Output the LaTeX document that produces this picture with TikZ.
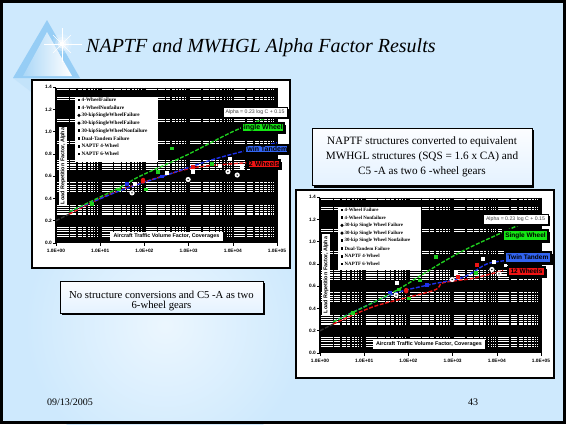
\documentclass[tikz,border=0pt]{standalone}
\usepackage{fontspec}
\setmainfont{Liberation Serif}
\setsansfont{Liberation Sans}

\definecolor{slidebg}{RGB}{206,233,253}
\definecolor{pyrblue}{RGB}{150,205,245}
\definecolor{pyrlight}{RGB}{215,238,253}
\definecolor{sergreen}{RGB}{30,205,30}
\definecolor{serblue}{RGB}{30,50,235}
\definecolor{serred}{RGB}{235,20,20}
\definecolor{boxgreen}{RGB}{20,230,20}
\definecolor{boxblue}{RGB}{50,100,240}
\definecolor{boxred}{RGB}{240,20,20}
\definecolor{noteTop}{RGB}{252,253,255}
\definecolor{noteBot}{RGB}{228,242,255}

\tikzset{
  chartframe/.style={fill=white, draw=black, line width=1.6pt},
  gridrow/.style={white, line width=1.1pt},
  minorcut/.style={black, line width=1.3pt},
  majorcut/.style={black, line width=2.6pt},
  ticklab/.style={font=\sffamily\bfseries\fontsize{4.8}{5}\selectfont, inner sep=0pt},
  legtext/.style={font=\rmfamily\bfseries\fontsize{5.2}{6}\selectfont, anchor=west, inner sep=0pt},
  axtitle/.style={font=\sffamily\bfseries\fontsize{5.4}{6}\selectfont, inner sep=0pt},
  eqtext/.style={font=\sffamily\fontsize{5.2}{6}\selectfont, text=black!75, inner sep=0pt},
  series/.style={line width=1.4pt, dash pattern=on 4pt off 1.6pt},
  tagfill/.style={draw=black, line width=1.1pt},
  tagtext/.style={font=\sffamily\bfseries\fontsize{#1}{7}\selectfont, inner sep=0pt},
  notebox/.style={draw=black, line width=1pt, top color=noteTop, bottom color=noteBot},
  notetext/.style={font=\fontsize{#1}{13}\selectfont, inner sep=0pt},
  gmk/.pic={\fill[sergreen] (-1.8pt,-1.8pt) rectangle (1.8pt,1.8pt);},
  bmk/.pic={\fill[serblue] (-2pt,-1.6pt) rectangle (2pt,1.6pt);},
  rmk/.pic={\fill[serred] (-1.8pt,-1.8pt) rectangle (1.8pt,1.8pt);},
  rbig/.pic={\fill[serred] (0,0) ellipse (2.3pt and 2.9pt);},
  wmk/.pic={\fill[white] (-2pt,-2pt) rectangle (2pt,2pt);},
  wci/.pic={\fill[white] (0,0) circle (2.6pt); \fill[black] (0,0) circle (0.8pt);},
  legsq/.pic={\fill[black] (-1.4pt,-1.4pt) rectangle (1.4pt,1.4pt);},
  legci/.pic={\fill[black] (0,0) circle (1.7pt);},
}

% frame, black grid field, ticks and tick labels of one chart
\newcommand{\chartbase}{%
  \draw[chartframe] (0,0) rectangle (258,188);
  \fill[black] (24,7.6) rectangle (245,163);
  \foreach \r in {0.06,0.08,0.10,0.12,0.14,0.26,0.28,0.30,0.32,0.34,0.46,0.48,0.50,0.52,0.54,0.66,0.68,0.70,0.72,0.74,0.89,0.91,1.09,1.11,1.29,1.31,1.375}
    \draw[gridrow] (24,{163-111.4*\r}) -- (245,{163-111.4*\r});
  \foreach \d in {0,...,4}
    \foreach \k in {2,...,9}
      \draw[minorcut] ({24+44.2*(\d+log10(\k))},7.6) -- ++(0,155.4);
  \foreach \d in {0,...,5}
    \draw[majorcut] ({24+44.2*\d},7.6) -- ++(0,155.4);
  \foreach \a/\t [count=\n] in {0/0.0,0.2/0.2,0.4/0.4,0.6/0.6,0.8/0.8,1/1.0,1.2/1.2,1.4/1.4}{
    \draw[line width=0.5pt] (21,{163-111.4*\a}) -- (24,{163-111.4*\a});
    \node[ticklab, anchor=east] (yt\n) at (20,{163-111.4*\a}) {\t};
  }
  \foreach \d/\t in {0/1.0E+00,1/1.0E+01,2/1.0E+02,3/1.0E+03,4/1.0E+04,5/1.0E+05}{
    \draw[line width=0.5pt] ({24+44.2*\d},163) -- ++(0,3);
    \node[ticklab] (xt\d) at ({24+44.2*\d},170.5) {\t};
  }
}

\begin{document}
\begin{tikzpicture}[x=1pt,y=-1pt]
\useasboundingbox (0,0) rectangle (566,424);
\fill[slidebg] (0,0) rectangle (566,424);
% soft light patch in the lower left of the slide
\shade[inner color=white!60!slidebg, outer color=slidebg] (165,325) circle (140);

% pyramid ornament with its reflection and sparkle
\fill[pyrblue!70, opacity=0.45] (13,78) -- (80,78) -- (47,104) -- cycle;
\fill[pyrblue] (47,20) -- (13,78) -- (80,78) -- cycle;
\shade[left color=pyrblue!80, right color=white] (47,32) -- (23,76) -- (72,76) -- cycle;
\foreach \r/\o in {10/0.15,7/0.3,4.5/0.55,2.4/1}
  \fill[white, opacity=\o] (62,44) circle (\r);
\draw[white, line width=0.8pt] (44,44) -- (82,44);
\draw[white, line width=0.8pt] (62,28) -- (62,62);
\draw[white, line width=0.5pt] (53,35) -- (71,53) (71,35) -- (53,53);

% title
\node[anchor=base west, inner sep=0pt, font=\itshape\fontsize{20}{24}\selectfont] (title) at (86,52) {NAPTF and MWHGL Alpha Factor Results};

% ---------- left chart ----------
\begin{scope}[shift={(32,80)}]
  \chartbase
  \begin{scope}[shift={(24,163)}, x=44.2pt, y=111.4pt]
    \draw[series, black!80] (0,0.2) -- (0.35,0.27);
    \draw[series, serred] plot[smooth] coordinates {(0.3,0.26) (1.29,0.45) (2.74,0.64) (3.37,0.69) (4.3,0.72)};
    \draw[series, serblue] plot[smooth] coordinates {(0.3,0.28) (1.45,0.47) (2.5,0.61) (3.64,0.76) (5,0.9)};
    \draw[series, sergreen] plot[smooth] coordinates {(0.3,0.28) (1.45,0.5) (1.9,0.6) (2.96,0.79) (4,1.0) (4.8,1.13)};
    \foreach \p in {(2.62,0.85),(2.31,0.64),(3.53,0.71),(2.04,0.48),(0.81,0.35),(1.43,0.48)} \pic at \p {gmk};
    \foreach \p in {(1.6,0.53),(2.4,0.6)} \pic at \p {bmk};
    \pic at (1.97,0.56) {rbig};
    \pic at (3.1,0.68) {rmk};
    \foreach \p in {(1.79,0.53),(2.5,0.63),(3.1,0.64),(3.71,0.69),(3.94,0.75),(4.2,0.67)} \pic at \p {wmk};
    \foreach \p in {(1.72,0.45),(2.99,0.57),(3.89,0.64),(4.1,0.61)} \pic at \p {wci};
  \end{scope}
  % legend
  \fill[white] (43,17) rectangle (126,82);
  \foreach \t/\m [count=\i] in {4-WheelFailure/legsq,4-WheelNonfailure/legsq,30-kipSingleWheelFailure/legci,30-kipSingleWheelFailure/legci,30-kipSingleWheelNonfailure/legsq,Dual-Tandem Failure/legsq,NAPTF 4-Wheel/legsq,NAPTF 6-Wheel/legsq}{
    \pic at (47,{12.3+7.7*\i}) {\m};
    \node[legtext] (lgA\i) at (49.5,{12.3+7.7*\i}) {\t};
  }
  % axis titles
  \fill[white] (27,47) rectangle (35,125);
  \node[axtitle, rotate=90] (ytA) at (31,86) {Load Repetition Factor, Alpha};
  \fill[black] (79.5,153.5) rectangle (192.5,162.5);
  \fill[white] (78,152) rectangle (191,161);
  \node[axtitle] (xtA) at (134.5,156.5) {Aircraft Traffic Volume Factor, Coverages};
  % equation and series tags
  \fill[black] (192.5,28.5) rectangle (256.5,38.5);
  \draw[fill=white, line width=0.6pt] (191,27) rectangle (255,37);
  \node[eqtext] (eqA) at (223,32) {Alpha = 0.23 log C + 0.15};
  \fill[black] (211.5,44.5) rectangle (253.5,53.5);
  \draw[tagfill, fill=boxgreen] (210,43) rectangle (252,52);
  \begin{scope}\clip (210.6,43.6) rectangle (251.4,51.4);
    \node[tagtext=7, anchor=east] (swA) at (251,47.7) {Single Wheel};\end{scope}
  \fill[black] (214.5,66.5) rectangle (257.5,74.5);
  \draw[tagfill, fill=boxblue] (213,65) rectangle (256,73);
  \begin{scope}\clip (213.6,65.6) rectangle (255.4,72.4);
    \node[tagtext=7, anchor=east] (ttA) at (255.5,69.2) {Twin Tandem};\end{scope}
  \fill[black] (217.5,81.5) rectangle (249.5,89.5);
  \draw[tagfill, fill=boxred] (216,80) rectangle (248,88);
  \begin{scope}\clip (216.6,80.6) rectangle (247.4,87.4);
    \node[tagtext=7, anchor=east] (twA) at (247.5,84.2) {12 Wheels};\end{scope}
\end{scope}

% ---------- right chart ----------
\begin{scope}[shift={(296,190)}]
  \chartbase
  \begin{scope}[shift={(24,163)}, x=44.2pt, y=111.4pt]
    \draw[series, black!80] (0,0.2) -- (0.35,0.27);
    \draw[series, serred] plot[smooth] coordinates {(0.3,0.26) (1.24,0.42) (2.56,0.56) (2.78,0.63) (3.46,0.67) (4.14,0.74)};
    \draw[series, serblue] plot[smooth] coordinates {(0.3,0.28) (1.58,0.52) (2.44,0.61) (3.24,0.68) (3.78,0.8) (4.23,0.83)};
    \draw[series, sergreen] plot[smooth] coordinates {(0.3,0.28) (1.29,0.47) (1.81,0.58) (2.71,0.8) (3.4,0.95) (4.9,1.22)};
    \foreach \p in {(2.62,0.86),(2.26,0.65),(3.53,0.72),(2.01,0.49),(0.75,0.36),(1.79,0.57)} \pic at \p {gmk};
    \foreach \p in {(1.58,0.54),(2.42,0.61)} \pic at \p {bmk};
    \pic at (1.95,0.56) {rbig};
    \foreach \p in {(3.12,0.68),(3.55,0.79)} \pic at \p {rmk};
    \foreach \p in {(1.74,0.63),(3.08,0.73),(3.69,0.84),(3.94,0.82),(4.2,0.79)} \pic at \p {wmk};
    \foreach \p in {(1.72,0.52),(2.99,0.66),(3.89,0.75),(4.05,0.71)} \pic at \p {wci};
  \end{scope}
  % legend
  \fill[white] (42,17) rectangle (125,80);
  \foreach \t/\m [count=\i] in {4-Wheel Failure/legsq,4-Wheel Nonfailure/legsq,30-kip Single Wheel Failure/legci,30-kip Single Wheel Failure/legci,30-kip Single Wheel Nonfailure/legsq,Dual-Tandem Failure/legsq,NAPTF 4-Wheel/legsq,NAPTF 6-Wheel/legsq}{
    \pic at (46,{12.3+7.7*\i}) {\m};
    \node[legtext, font=\rmfamily\bfseries\fontsize{4.9}{6}\selectfont] (lgB\i) at (48.5,{12.3+7.7*\i}) {\t};
  }
  % axis titles
  \fill[white] (26,44) rectangle (34,126);
  \node[axtitle, rotate=90] (ytB) at (30,85) {Load Repetition Factor, Alpha};
  \fill[black] (78.5,150.5) rectangle (190.5,160.5);
  \fill[white] (77,149) rectangle (189,159);
  \node[axtitle] (xtB) at (133,154) {Aircraft Traffic Volume Factor, Coverages};
  % equation and series tags
  \fill[black] (188.5,25.5) rectangle (253.5,35.5);
  \draw[fill=white, line width=0.6pt] (187,24) rectangle (252,34);
  \node[eqtext] (eqB) at (219.5,29) {Alpha = 0.23 log C + 0.15};
  \fill[black] (208.5,41.5) rectangle (253.5,52.5);
  \draw[tagfill, fill=boxgreen] (207,40) rectangle (252,51);
  \node[tagtext=6.5] (swB) at (229.5,45.5) {Single Wheel};
  \fill[black] (210.5,63.5) rectangle (256.5,74.5);
  \draw[tagfill, fill=boxblue] (209,62) rectangle (255,73);
  \node[tagtext=6.5] (ttB) at (232,67.5) {Twin Tandem};
  \fill[black] (213.5,78.5) rectangle (250.5,87.5);
  \draw[tagfill, fill=boxred] (212,77) rectangle (249,86);
  \node[tagtext=6.5] (twB) at (230.5,81.5) {12 Wheels};
\end{scope}

% note boxes
\fill[black] (314,130) rectangle (534,187.5);
\draw[notebox] (312,128) rectangle (532,185.5);
\node[notetext=11.2] (n1a) at (422,142) {NAPTF structures converted to equivalent};
\node[notetext=11.2] (n1b) at (422,157) {MWHGL structures (SQS = 1.6 x CA) and};
\node[notetext=11.2] (n1c) at (422,172) {C5 -A as two 6 -wheel gears};

\fill[black] (62,283) rectangle (265,315);
\draw[notebox] (60,281) rectangle (263,313);
\node[notetext=10.7] (n2a) at (161.5,294.5) {No structure conversions and C5 -A as two};
\node[notetext=10.7] (n2b) at (161.5,306) {6-wheel gears};

% footer
\node[anchor=west, inner sep=0pt, font=\fontsize{10}{12}\selectfont] (date) at (47,402) {09/13/2005};
\node[inner sep=0pt, font=\fontsize{10}{12}\selectfont] (page) at (473,402) {43};

% slide border
\draw[line width=2.6pt] (1.3,1.3) rectangle (564.7,422.7);
\end{tikzpicture}
\end{document}
